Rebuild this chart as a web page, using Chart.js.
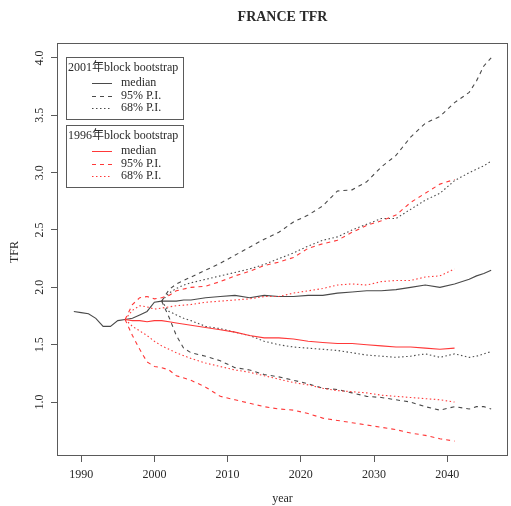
<!DOCTYPE html>
<html>
<head>
<meta charset="utf-8">
<title>FRANCE TFR</title>
<script src="https://cdn.jsdelivr.net/npm/chart.js@4/dist/chart.umd.min.js"></script>
<style>
  html, body { margin: 0; padding: 0; background: #fff; }
  #wrap { width: 511px; height: 506px; }
</style>
</head>
<body>
<div id="wrap"><canvas id="tfrChart" width="511" height="506"></canvas></div>
<script>
// observed TFR
const histYears = [1989, 1990, 1991, 1992, 1993, 1994, 1995, 1996, 1997, 1998, 1999, 2000, 2001];
const histTfr   = [1.79, 1.78, 1.77, 1.73, 1.66, 1.66, 1.71, 1.72, 1.73, 1.76, 1.79, 1.87, 1.88];

// forecast from 2001, block bootstrap
const yrs2001 = [2001, 2002, 2003, 2004, 2005, 2007, 2009, 2011, 2013, 2015, 2017, 2019, 2021,
                 2023, 2025, 2027, 2029, 2031, 2033, 2035, 2037, 2039, 2041, 2043, 2044, 2045, 2046];
const med2001   = [1.88, 1.88, 1.88, 1.89, 1.89, 1.91, 1.92, 1.93, 1.91, 1.93, 1.92, 1.92, 1.93,
                   1.93, 1.95, 1.96, 1.97, 1.97, 1.98, 2.00, 2.02, 2.00, 2.03, 2.07, 2.10, 2.12, 2.15];
const hi95_2001 = [1.88, 1.98, 2.03, 2.06, 2.09, 2.15, 2.21, 2.28, 2.35, 2.42, 2.48, 2.57, 2.63,
                   2.71, 2.84, 2.85, 2.92, 3.05, 3.15, 3.31, 3.43, 3.49, 3.61, 3.70, 3.80, 3.93, 4.00];
const hi68_2001 = [1.88, 1.95, 1.99, 2.02, 2.04, 2.07, 2.10, 2.13, 2.16, 2.20, 2.25, 2.30, 2.36,
                   2.41, 2.44, 2.50, 2.55, 2.60, 2.60, 2.68, 2.76, 2.82, 2.93, 3.00, 3.03, 3.06, 3.10];
const lo68_2001 = [1.88, 1.79, 1.76, 1.73, 1.71, 1.66, 1.64, 1.61, 1.58, 1.53, 1.50, 1.48, 1.47,
                   1.46, 1.45, 1.43, 1.41, 1.40, 1.39, 1.40, 1.42, 1.39, 1.42, 1.39, 1.40, 1.42, 1.44];
const lo95_2001 = [1.88, 1.74, 1.58, 1.47, 1.43, 1.40, 1.36, 1.30, 1.28, 1.24, 1.22, 1.19, 1.16,
                   1.12, 1.11, 1.08, 1.05, 1.04, 1.02, 1.00, 0.96, 0.93, 0.96, 0.94, 0.96, 0.96, 0.94];

// forecast from 1996, block bootstrap
const yrs1996 = [1996, 1997, 1998, 1999, 2000, 2001, 2002, 2003, 2005, 2007, 2009, 2011, 2013, 2015,
                 2017, 2019, 2021, 2023, 2025, 2027, 2029, 2031, 2033, 2035, 2037, 2039, 2041];
const med1996   = [1.72, 1.71, 1.71, 1.70, 1.71, 1.71, 1.70, 1.69, 1.67, 1.65, 1.63, 1.61, 1.58, 1.56,
                   1.56, 1.55, 1.53, 1.52, 1.51, 1.51, 1.50, 1.49, 1.48, 1.48, 1.47, 1.46, 1.47];
const hi95_1996 = [1.72, 1.85, 1.91, 1.92, 1.90, 1.91, 1.93, 1.97, 2.00, 2.01, 2.05, 2.10, 2.14, 2.19,
                   2.22, 2.26, 2.34, 2.38, 2.41, 2.48, 2.54, 2.58, 2.63, 2.74, 2.82, 2.90, 2.94];
const hi68_1996 = [1.72, 1.80, 1.84, 1.83, 1.81, 1.82, 1.83, 1.84, 1.85, 1.87, 1.88, 1.89, 1.90, 1.92,
                   1.92, 1.95, 1.97, 1.99, 2.02, 2.03, 2.02, 2.05, 2.06, 2.06, 2.09, 2.10, 2.16];
const lo68_1996 = [1.72, 1.66, 1.62, 1.58, 1.53, 1.49, 1.46, 1.43, 1.38, 1.34, 1.31, 1.28, 1.26, 1.23,
                   1.20, 1.17, 1.15, 1.12, 1.10, 1.09, 1.08, 1.06, 1.05, 1.04, 1.03, 1.02, 1.00];
const lo95_1996 = [1.72, 1.58, 1.46, 1.35, 1.31, 1.30, 1.28, 1.23, 1.19, 1.13, 1.05, 1.02, 0.99, 0.96,
                   0.94, 0.93, 0.90, 0.86, 0.84, 0.82, 0.80, 0.78, 0.76, 0.73, 0.71, 0.68, 0.66];

const xTicks = [1990, 2000, 2010, 2020, 2030, 2040];
const yTicks = [1.0, 1.5, 2.0, 2.5, 3.0, 3.5, 4.0];
const legendGroups = ['2001年block bootstrap', '1996年block bootstrap'];
const legendItems = ['median', '95% P.I.', '68% P.I.'];

const BLACK = '#4a4a4a';
const RED = '#ff3838';
const TEXT = '#2a2a2a';
const FRAME = '#5a5a5a';
const SERIF = '"Liberation Serif", "Times New Roman", "Noto Sans CJK SC", serif';
const DASHED = [4, 4];
const DOTTED = [1.5, 2.5];

function pts(xs, ys) {
  return xs.map((x, i) => ({ x: x, y: ys[i] }));
}

function line(data, color, dash) {
  return {
    data: data,
    borderColor: color,
    borderWidth: 1.1,
    borderDash: dash,
    pointRadius: 0,
    tension: 0,
    fill: false
  };
}

// R-style frame, title, axis labels, y tick labels and the two legend boxes
const decorations = {
  id: 'decorations',
  afterDatasetsDraw(chart) {
    const ctx = chart.ctx;
    const a = chart.chartArea;
    const ys = chart.scales.y;
    ctx.save();
    ctx.strokeStyle = FRAME;
    ctx.lineWidth = 1;
    ctx.setLineDash([]);
    ctx.strokeRect(a.left + 0.5, a.top + 0.5, a.right - a.left - 1, a.bottom - a.top - 1);

    ctx.fillStyle = TEXT;
    ctx.textAlign = 'center';
    ctx.textBaseline = 'middle';
    ctx.font = 'bold 14px ' + SERIF;
    ctx.fillText('FRANCE TFR', (a.left + a.right) / 2, 17);

    ctx.font = '12px ' + SERIF;
    ctx.fillText('year', (a.left + a.right) / 2, 499);

    yTicks.forEach(v => {
      ctx.save();
      ctx.translate(40, ys.getPixelForValue(v));
      ctx.rotate(-Math.PI / 2);
      ctx.fillText(v.toFixed(1), 0, 0);
      ctx.restore();
    });
    ctx.save();
    ctx.translate(15, 252);
    ctx.rotate(-Math.PI / 2);
    ctx.fillText('TFR', 0, 0);
    ctx.restore();

    // legends
    const boxes = [{ top: 57, color: BLACK }, { top: 125, color: RED }];
    const dashes = [[], DASHED, DOTTED];
    boxes.forEach((b, g) => {
      ctx.setLineDash([]);
      ctx.strokeStyle = FRAME;
      ctx.strokeRect(66.5, b.top + 0.5, 117, 62);
      ctx.textAlign = 'left';
      ctx.fillStyle = TEXT;
      ctx.font = '12px ' + SERIF;
      ctx.fillText(legendGroups[g], 68, b.top + 11);
      legendItems.forEach((label, i) => {
        const y = b.top + 26 + i * 12.5;
        ctx.strokeStyle = b.color;
        ctx.setLineDash(dashes[i]);
        ctx.beginPath();
        ctx.moveTo(92, Math.round(y) + 0.5);
        ctx.lineTo(112, Math.round(y) + 0.5);
        ctx.stroke();
        ctx.fillText(label, 121, y);
      });
    });
    ctx.restore();
  }
};

new Chart(document.getElementById('tfrChart'), {
  type: 'line',
  data: {
    datasets: [
      line(pts(yrs1996, med1996), RED, []),
      line(pts(yrs1996, hi95_1996), RED, DASHED),
      line(pts(yrs1996, lo95_1996), RED, DASHED),
      line(pts(yrs1996, hi68_1996), RED, DOTTED),
      line(pts(yrs1996, lo68_1996), RED, DOTTED),
      line(pts(histYears, histTfr), BLACK, []),
      line(pts(yrs2001, med2001), BLACK, []),
      line(pts(yrs2001, hi95_2001), BLACK, DASHED),
      line(pts(yrs2001, lo95_2001), BLACK, DASHED),
      line(pts(yrs2001, hi68_2001), BLACK, DOTTED),
      line(pts(yrs2001, lo68_2001), BLACK, DOTTED)
    ]
  },
  options: {
    responsive: false,
    animation: false,
    devicePixelRatio: 1,
    layout: { padding: { top: 43, right: 3, left: 0, bottom: 0 } },
    plugins: {
      legend: { display: false },
      title: { display: false },
      tooltip: { enabled: false }
    },
    scales: {
      x: {
        type: 'linear',
        min: 1986.7,
        max: 2048.3,
        afterFit: s => { s.height = 50; },
        afterBuildTicks: s => { s.ticks = xTicks.map(v => ({ value: v })); },
        border: { display: false },
        grid: { drawOnChartArea: false, drawTicks: true, tickLength: 6, color: FRAME },
        ticks: {
          color: TEXT,
          padding: 6,
          maxRotation: 0,
          font: { family: SERIF, size: 12 },
          callback: v => String(v)
        }
      },
      y: {
        type: 'linear',
        min: 0.53,
        max: 4.13,
        afterFit: s => { s.width = 57; },
        afterBuildTicks: s => { s.ticks = yTicks.map(v => ({ value: v })); },
        border: { display: false },
        grid: { drawOnChartArea: false, drawTicks: true, tickLength: 6, color: FRAME },
        ticks: { display: false }
      }
    }
  },
  plugins: [decorations]
});
</script>
</body>
</html>
